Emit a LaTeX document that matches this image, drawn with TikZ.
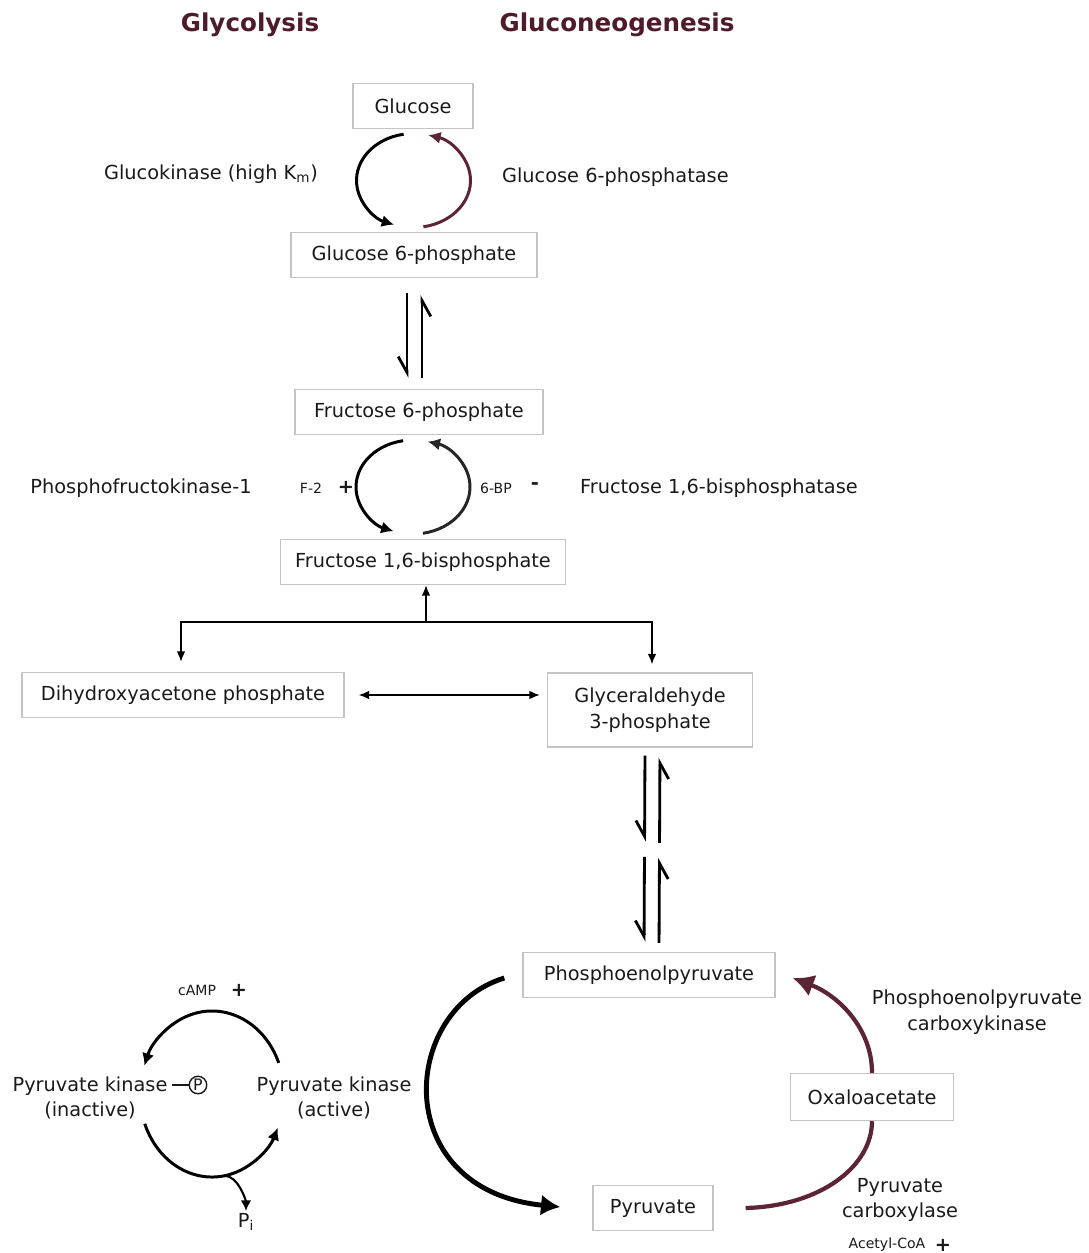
\documentclass[tikz,border=0pt]{standalone}
\usepackage{fontspec}
\setmainfont{DejaVu Sans}
\usepackage{xcolor}
\usepackage{tikz}
\usetikzlibrary{shapes, arrows, arrows.meta, calc, positioning}
\definecolor{boxline}{HTML}{C4C4C4}
\definecolor{titlered}{HTML}{4E1B29}
\definecolor{enzred}{HTML}{5C2434}
\definecolor{ink}{HTML}{1A1A1A}
\tikzstyle{box} = [draw=boxline, line width=0.8pt, rectangle, minimum height=0.9cm, inner sep=2pt, align=center, text=ink, font=\fontsize{11}{14.5}\selectfont]
\tikzstyle{txt} = [text=ink, font=\fontsize{11}{14.5}\selectfont, align=center, inner sep=1pt]
\tikzstyle{smalltxt} = [text=ink, font=\fontsize{8}{10}\selectfont, inner sep=1pt]
\tikzstyle{heading} = [text=titlered, font=\fontsize{14}{16}\selectfont\bfseries]
\tikzstyle{pcircle} = [draw=ink, circle, line width=0.8pt, minimum size=0.35cm, inner sep=0pt, text=ink, font=\fontsize{9}{10}\selectfont]
\tikzstyle{cyc} = [line width=1.7pt, -{Latex[length=7pt,width=7pt]}]
\tikzstyle{harp} = [line width=1.6pt, -{Straight Barb[right,length=9pt,width=10pt]}]
\tikzstyle{branch} = [line width=0.9pt, -{Latex[length=6pt,width=5pt]}]

\begin{document}
\begin{tikzpicture}[auto, x=0.02cm, y=-0.02cm, >=latex']
        \useasboundingbox (0,0) rectangle (1088,1253);
        % 标题
        \node [heading] (glyc) at (250,25) {Glycolysis};
        \node [heading] (gneo) at (617,25) {Gluconeogenesis};

        % 代谢物
        \node [box, minimum width=2.4cm] (glc) at (413,106) {Glucose};
        \node [box, minimum width=4.92cm] (g6p) at (414,255) {Glucose 6-phosphate};
        \node [box, minimum width=4.96cm] (f6p) at (419,412) {Fructose 6-phosphate};
        \node [box, minimum width=5.7cm] (f16bp) at (423,562) {Fructose 1,6-bisphosphate};
        \node [box, minimum width=6.44cm] (dhap) at (183,695) {Dihydroxyacetone phosphate};
        \node [box, minimum width=4.1cm, minimum height=1.48cm] (g3p) at (650,710) {Glyceraldehyde\\3-phosphate};
        \node [box, minimum width=5.04cm] (pep) at (649,975) {Phosphoenolpyruvate};
        \node [box, minimum width=3.26cm, minimum height=0.94cm] (oaa) at (872,1097) {Oxaloacetate};
        \node [box, minimum width=2.4cm] (pyr) at (653,1208) {Pyruvate};

        % 酶和调节物
        \node [txt] (gk) at (211,174) {Glucokinase (high K\textsubscript{m})};
        \node [txt, anchor=west] (g6pase) at (500,177) {Glucose 6-phosphatase};
        \node [txt] (pfk) at (141,488) {Phosphofructokinase-1};
        \node [smalltxt] (f2) at (311,488) {F-2};
        \node [txt] (f2plus) at (346,487) {\textbf{+}};
        \node [smalltxt] (bp) at (496,488) {6-BP};
        \node [txt] (bpminus) at (535,486) {\textbf{-}};
        \node [txt, anchor=west] (fbpase) at (578,488) {Fructose 1,6-bisphosphatase};
        \node [smalltxt] (camp) at (197,990) {cAMP};
        \node [txt] (campplus) at (239,990) {\textbf{+}};
        \node [txt] (pkin) at (90,1098) {Pyruvate kinase\\(inactive)};
        \node [pcircle] (pcirc) at (198,1085) {P};
        \coordinate (dashend) at (172,1085);
        \node [txt] (pkact) at (334,1098) {Pyruvate kinase\\(active)};
        \node [txt] (pinode) at (246,1222) {P\textsubscript{i}};
        \node [txt] (pepck) at (977,1012) {Phosphoenolpyruvate\\carboxykinase};
        \node [txt] (pc) at (900,1200) {Pyruvate\\carboxylase};
        \node [smalltxt] (acoa) at (887,1245) {Acetyl-CoA};
        \node [txt] (acoaplus) at (943,1245) {\textbf{+}};
        \draw [ink, line width=0.9pt] (dashend) -- (pcirc);

        % 循环箭头
        \coordinate (c1) at ($(glc)!0.5!(g6p)$);
        \draw [cyc] (c1) ++(260:57 and 47) arc [start angle=260, end angle=110, x radius=57, y radius=47];
        \draw [cyc, enzred] (c1) ++(80:57 and 47) arc [start angle=80, end angle=-75, x radius=57, y radius=47];
        \coordinate (c2) at ($(f6p)!0.5!(f16bp)+(-8,0)$);
        \draw [cyc] (c2) ++(260:57 and 47) arc [start angle=260, end angle=110, x radius=57, y radius=47];
        \draw [cyc, black!85] (c2) ++(80:57 and 47) arc [start angle=80, end angle=-75, x radius=57, y radius=47];

        % 可逆反应
        \draw [harp, shorten <=0.3cm, shorten >=0.22cm] ($(g6p.south)+(-7,0)$) -- ($(g6p.south |- f6p.north)+(-7,0)$);
        \draw [harp, shorten <=0.22cm, shorten >=0.34cm] ($(g6p.south |- f6p.north)+(8,0)$) -- ($(g6p.south)+(8,0)$);
        \coordinate (gmid) at ($(g3p.south)!0.5!(pep.north)$);
        \draw [harp, shorten <=0.16cm, shorten >=0.16cm] ($(g3p.south)+(-5,0)$) -- ($(gmid)+(-5,0)$);
        \draw [harp, shorten <=0.14cm, shorten >=0.2cm] ($(gmid)+(10,0)$) -- ($(g3p.south)+(10,0)$);
        \draw [harp, shorten <=0.14cm, shorten >=0.2cm] ($(gmid)+(-5,0)$) -- ($(pep.north)+(-5,0)$);
        \draw [harp, shorten <=0.18cm, shorten >=0.16cm] ($(pep.north)+(10,0)$) -- ($(gmid)+(10,0)$);

        % 分支
        \coordinate (split) at ($(f16bp.south)+(3,37)$);
        \draw [branch] (split) -- (split |- f16bp.south);
        \draw [branch] (split) -| ($(dhap.north)+(-2,-10)$);
        \draw [branch] (split) -| ($(g3p.north)+(2,-8)$);
        \draw [branch, {Latex[length=6pt,width=5pt]}-{Latex[length=6pt,width=5pt]}, shorten <=0.28cm, shorten >=0.14cm] (dhap.east) -- (dhap.east -| g3p.west);

        % 丙酮酸循环
        \draw [line width=2.8pt, -{Latex[length=11pt,width=12pt]}] ($(pep.west)+(-18,3)$) .. controls +(-105,32) and +(-171,-17) .. ($(pyr.west)+(-32,-1)$);
        \draw [enzred, line width=2.4pt] ($(pyr.east)+(32,0)$) .. controls +(75,-2) and +(0,45) .. (oaa.south);
        \draw [enzred, line width=2.4pt, -{Latex[length=12pt,width=13pt]}] (oaa.north) .. controls +(0,-45) and +(45,17) .. ($(pep.east)+(17,3)$);

        % 丙酮酸激酶
        \coordinate (pkc) at ($(pkin)!0.5!(pkact)+(0,-4)$);
        \draw [cyc] (pkc) ++(-22:72 and 83) arc [start angle=-22, end angle=-160, x radius=72, y radius=83];
        \draw [cyc] (pkc) ++(159:72 and 83) arc [start angle=159, end angle=24, x radius=72, y radius=83];
        \draw [line width=1.2pt, -{Latex[length=6pt,width=6pt]}] (pkc) ++(80:72 and 83) .. controls +(14,0) and +(0,-10) .. (pinode.north);
    \end{tikzpicture}
\end{document}
